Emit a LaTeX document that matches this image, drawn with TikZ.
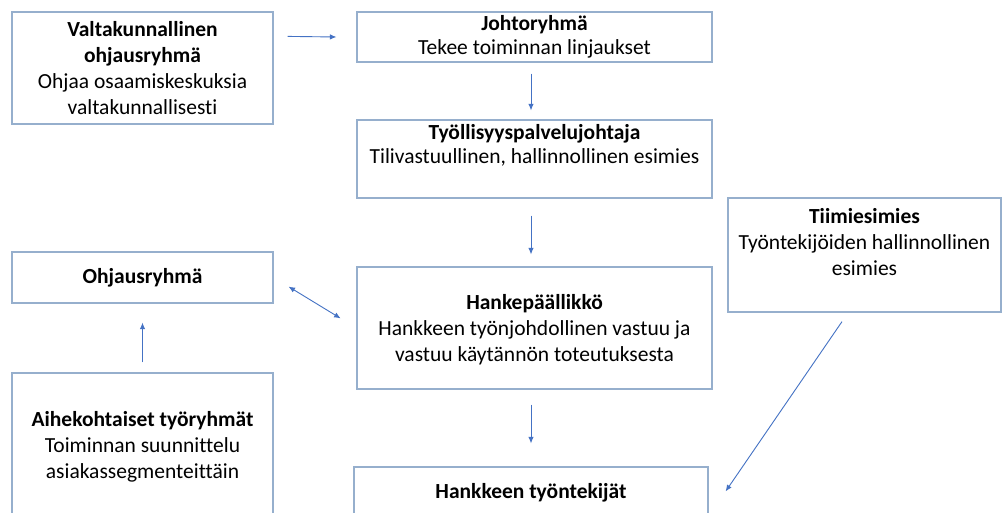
\documentclass[tikz,border=0pt]{standalone}
\usepackage{fontspec}
\setmainfont{Carlito}[Ligatures=NoCommon]
\usetikzlibrary{arrows.meta,calc}

\definecolor{boxline}{RGB}{150,175,205}
\definecolor{arrowblue}{RGB}{68,114,196}

% strut that fixes the height of the first text line
\newcommand{\firstline}{\rule{0pt}{16pt}}

\begin{document}
\begin{tikzpicture}[
  x=1pt, y=-1pt,
  box/.style={draw=boxline, line width=1.2pt, rectangle, inner sep=0pt},
  txt/.style={anchor=north, inner sep=0pt, align=center, text=black},
  body/.style={font=\fontsize{21.5}{26}\selectfont},
  tight/.style={font=\fontsize{21.5}{23.5}\selectfont},
  arr/.style={draw=arrowblue, line width=0.9pt, -{Latex[length=6.5pt,width=5.5pt]}},
  arrboth/.style={draw=arrowblue, line width=0.9pt, {Latex[length=6.5pt,width=5.5pt]}-{Latex[length=6.5pt,width=5.5pt]}},
]
\clip (0,0) rectangle (1002,513);
\fill[white] (0,0) rectangle (1002,513);

% boxes
\node[box, minimum width=261pt, minimum height=112pt] (valta) at (142.5,68) {};
\node[box, minimum width=355pt, minimum height=50pt]  (johto) at (534.5,37) {};
\node[box, minimum width=355pt, minimum height=78pt]  (tyoll) at (534.5,159) {};
\node[box, minimum width=273pt, minimum height=114pt] (tiimi) at (864.5,255) {};
\node[box, minimum width=261pt, minimum height=51pt]  (ohjaus) at (142.5,277.5) {};
\node[box, minimum width=355pt, minimum height=122pt] (hanke) at (534.5,328) {};
\node[box, minimum width=261pt, minimum height=187pt] (aihe) at (142.5,466.5) {};
\node[box, minimum width=354pt, minimum height=93pt]  (tyont) at (531,513.5) {};

% texts
\node[txt, body] (valtaT) at ([shift={(0,9)}]valta.north)
  {\firstline\textbf{Valtakunnallinen}\\\textbf{ohjausryhmä}\\Ohjaa osaamiskeskuksia\\valtakunnallisesti};
\node[txt, tight] (johtoT) at ([shift={(0,3)}]johto.north)
  {\firstline\textbf{Johtoryhmä}\\Tekee toiminnan linjaukset};
\node[txt, tight] (tyollT) at ([shift={(0,4)}]tyoll.north)
  {\firstline\textbf{Työllisyyspalvelujohtaja}\\Tilivastuullinen, hallinnollinen esimies};
\node[txt, body] (tiimiT) at ([shift={(0,10)}]tiimi.north)
  {\firstline\textbf{Tiimiesimies}\\Työntekijöiden hallinnollinen\\esimies};
\node[txt, body] (ohjausT) at ([shift={(0,16)}]ohjaus.north)
  {\firstline\textbf{Ohjausryhmä}};
\node[txt, body] (hankeT) at ([shift={(0,27)}]hanke.north)
  {\firstline\textbf{Hankepäällikkö}\\Hankkeen työnjohdollinen vastuu ja\\vastuu käytännön toteutuksesta};
\node[txt, body] (aiheT) at ([shift={(0,38)}]aihe.north)
  {\firstline\textbf{Aihekohtaiset työryhmät}\\Toiminnan suunnittelu\\asiakassegmenteittäin};
\node[txt, body] (tyontT) at ([shift={(0,16)}]tyont.north)
  {\firstline\textbf{Hankkeen työntekijät}};

% connectors
\draw[arr] ([shift={(14,25)}]valta.north east) -- ([shift={(-20,0)}]johto.west);
\draw[arr, shorten <=11pt, shorten >=9pt] ([shift={(-3.5,0)}]johto.south) -- ([shift={(-3.5,0)}]tyoll.north);
\draw[arr, shorten <=17pt, shorten >=12pt] ([shift={(-3.5,0)}]tyoll.south) -- ([shift={(-3.5,0)}]hanke.north);
\draw[arr, shorten <=15pt, shorten >=23pt] ([shift={(-3.5,0)}]hanke.south) -- (tyont.north);
\draw[arr, shorten <=10pt, shorten >=19pt] (aihe.north) -- (ohjaus.south);
\draw[arrboth, shorten <=17.5pt, shorten >=18.5pt] (ohjaus.east) -- (hanke.west);
\coordinate (tiimiOut) at ([shift={(-22.5,9)}]tiimi.south);
\coordinate (tyontIn) at ([shift={(17,25)}]tyont.north east);
\draw[arr] (tiimiOut) -- (tyontIn);
\end{tikzpicture}
\end{document}
